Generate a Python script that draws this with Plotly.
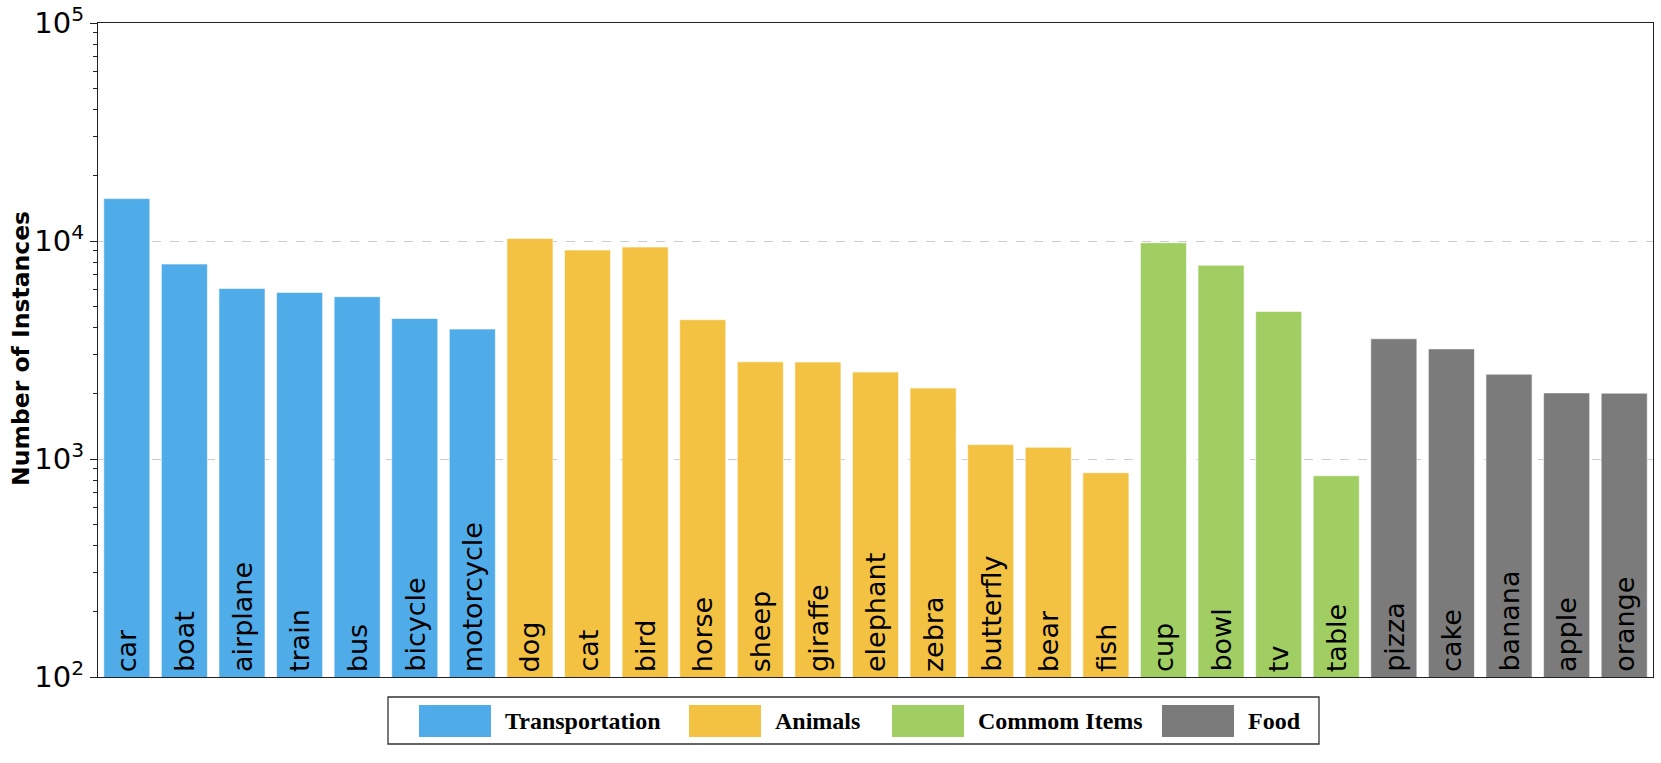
import plotly.graph_objects as go

# ---- data ----
groups = ["Transportation", "Animals", "Commom Items", "Food"]
group_colors = ["#4FACE9", "#F4C242", "#A0CE63", "#7B7B7B"]

transport_cats = ["car", "boat", "airplane", "train", "bus", "bicycle", "motorcycle"]
transport_vals = [15650, 7840, 6060, 5810, 5550, 4410, 3945]

animal_cats = ["dog", "cat", "bird", "horse", "sheep", "giraffe", "elephant",
               "zebra", "butterfly", "bear", "fish"]
animal_vals = [10280, 9090, 9380, 4355, 2790, 2785, 2505, 2115, 1164, 1132, 865]

items_cats = ["cup", "bowl", "tv", "table"]
items_vals = [9820, 7745, 4755, 838]

food_cats = ["pizza", "cake", "banana", "apple", "orange"]
food_vals = [3560, 3200, 2450, 2010, 2005]

y_tickvals = [1e2, 1e3, 1e4, 1e5]
y_ticktext = ["10<sup>2</sup>", "10<sup>3</sup>", "10<sup>4</sup>", "10<sup>5</sup>"]
y_title = "Number of Instances"

group_cats = [transport_cats, animal_cats, items_cats, food_cats]
group_vals = [transport_vals, animal_vals, items_vals, food_vals]
all_cats = [c for cats in group_cats for c in cats]

Y_MIN_LOG, Y_MAX_LOG = 2, 5

# ---- layout constants (pixels, page coordinates; body margin removed) ----
W, H = 1661, 763
PL, PR, PT, PB = 98, 1653, 23, 677          # plot area edges
ML, MR, MT, MB = PL, W - PR, PT, H - PB
PW, PH = PR - PL, PB - PT


def px(x):
    return (x - PL) / PW


def py(y):
    return (PB - y) / PH


fig = go.Figure()
for name, color, cats, vals in zip(groups, group_colors, group_cats, group_vals):
    fig.add_trace(go.Bar(
        x=cats, y=vals, name=name,
        marker=dict(color=color, line=dict(color="rgba(255,255,255,0.6)", width=1)),
        showlegend=False,
    ))
    # category names written vertically inside the bars, from the bottom
    for c in cats:
        fig.add_annotation(x=c, y=Y_MIN_LOG, xref="x", yref="y",
                           text=c, textangle=-90, showarrow=False,
                           xanchor="center", yanchor="bottom", yshift=3,
                           font=dict(family="DejaVu Sans", size=27, color="black"))

fig.update_layout(
    width=W, height=H, autosize=False,
    margin=dict(l=ML, r=MR, t=MT, b=MB, pad=0, autoexpand=False),
    paper_bgcolor="white", plot_bgcolor="white",
    barmode="overlay", bargap=0.2,
    font=dict(family="DejaVu Sans", color="black"),
)

fig.update_xaxes(
    type="category", categoryorder="array", categoryarray=all_cats,
    range=[-0.5, len(all_cats) - 0.5], automargin=False,
    showticklabels=False, ticks="", showgrid=False,
    showline=True, linecolor="#222", linewidth=1.3, mirror=True,
)

fig.update_yaxes(
    type="log", range=[Y_MIN_LOG, Y_MAX_LOG], automargin=False,
    tickmode="array", tickvals=y_tickvals, ticktext=y_ticktext,
    tickfont=dict(family="DejaVu Sans", size=29, color="black"),
    ticklabeloverflow="allow",
    ticks="outside", ticklen=7, tickwidth=1.3, tickcolor="#222",
    showgrid=True, gridcolor="#cccccc", griddash="dash", gridwidth=1,
    minor=dict(ticks="outside", ticklen=4, tickwidth=1, tickcolor="#222",
               tickvals=[k * 10 ** e for e in (2, 3, 4) for k in range(2, 10)],
               showgrid=False),
    showline=True, linecolor="#222", linewidth=1.3, mirror=True,
    zeroline=False,
)

# y-axis title
fig.add_annotation(xref="paper", yref="paper", x=px(21), y=py(349),
                   xanchor="center", yanchor="middle", showarrow=False,
                   textangle=-90, text="<b>" + y_title + "</b>",
                   font=dict(family="DejaVu Sans", size=23.5, color="black"))

# ---- legend drawn as a framed box below the plot ----
box = (388, 697, 1319, 744)
fig.add_shape(type="rect", xref="paper", yref="paper",
              x0=px(box[0]), x1=px(box[2]), y0=py(box[3]), y1=py(box[1]),
              line=dict(color="#333", width=1.3), fillcolor="white")
patch_x = [419, 689, 892, 1162]
patch_w, patch_top, patch_bot = 72, 705, 737
for name, color, x0 in zip(groups, group_colors, patch_x):
    fig.add_shape(type="rect", xref="paper", yref="paper",
                  x0=px(x0), x1=px(x0 + patch_w), y0=py(patch_bot), y1=py(patch_top),
                  line=dict(width=0), fillcolor=color)
    fig.add_annotation(xref="paper", yref="paper",
                       x=px(x0 + patch_w + 12), y=py((patch_top + patch_bot) / 2),
                       xanchor="left", yanchor="middle", showarrow=False,
                       text="<b>" + name + "</b>",
                       font=dict(family="Liberation Serif", size=24, color="black"))

fig.write_html(
    "out.html",
    config={"displayModeBar": False},
    post_script="document.body.style.margin='0';document.body.style.overflow='hidden';",
)
